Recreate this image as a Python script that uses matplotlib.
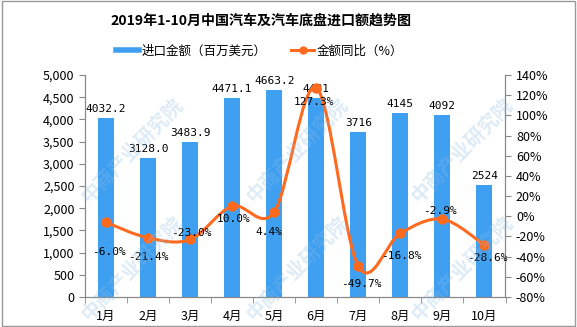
import numpy as np
import matplotlib
matplotlib.use("Agg")
import matplotlib.pyplot as plt
from matplotlib.path import Path
from matplotlib.patches import PathPatch, Rectangle
from matplotlib.lines import Line2D

plt.rcParams['font.family'] = ['Noto Sans CJK SC', 'DejaVu Sans']

months = ['1月', '2月', '3月', '4月', '5月', '6月', '7月', '8月', '9月', '10月']
imports = [4032.2, 3128.0, 3483.9, 4471.1, 4663.2, 4481, 3716, 4145, 4092, 2524]
import_labels = ['4032.2', '3128.0', '3483.9', '4471.1', '4663.2', '4481', '3716', '4145', '4092', '2524']
yoy = [-6.0, -21.4, -23.0, 10.0, 4.4, 127.3, -49.7, -16.8, -2.9, -28.6]
# where each % label sits relative to its point (points, label centre)
yoy_offsets = [(2, -21.5), (0, -14), (1, 5), (1, -9), (-3.5, -14.5), (-2, -10),
               (2, -13), (1, -16.5), (-1.5, 6), (2, -9.5)]

bar_color = '#3F9FF0'
line_color = '#FF6A1E'

fig = plt.figure(figsize=(5.77, 3.27), dpi=100)
ax = fig.add_axes([85 / 577, 1 - 297 / 327, (505.5 - 85) / 577, (297 - 75) / 327])
ax2 = ax.twinx()

x = np.arange(len(months))
ax.bar(x, imports, width=0.38, color=bar_color, zorder=2)
for xi, v, lab in zip(x, imports, import_labels):
    ax.annotate(lab, (xi, v), xytext=(0, 3), textcoords='offset points',
                ha='center', va='bottom', fontsize=8, family='DejaVu Sans Mono')

ax.set_xlim(-0.5, len(months) - 0.5)
ax.set_ylim(0, 5000)
ax.set_yticks(np.arange(0, 5001, 500))
ax.set_yticklabels([f'{v:,}' for v in range(0, 5001, 500)], fontsize=9)
ax.set_xticks(x)
ax.set_xticklabels(months, fontsize=9)
ax.set_xticks(np.arange(-0.5, len(months), 1), minor=True)
ax.tick_params(axis='x', which='major', length=0, pad=9)
ax.tick_params(axis='x', which='minor', length=4, color='#888888')
ax.tick_params(axis='y', length=4, color='#888888')

ax2.set_ylim(-80, 140)
ax2.set_yticks(np.arange(-80, 141, 20))
ax2.set_yticklabels([f'{v}%' for v in range(-80, 141, 20)], fontsize=9)
ax2.tick_params(axis='y', length=4, color='#888888')

for a in (ax, ax2):
    a.spines['top'].set_visible(False)
    for s in ('left', 'right', 'bottom'):
        a.spines[s].set_color('#888888')

# smoothed line (Catmull-Rom -> cubic bezier)
pts = np.column_stack([x, yoy]).astype(float)
n = len(pts)
verts = [pts[0]]
codes = [Path.MOVETO]
for i in range(n - 1):
    p0 = pts[max(i - 1, 0)]
    p1 = pts[i]
    p2 = pts[i + 1]
    p3 = pts[min(i + 2, n - 1)]
    verts += [p1 + (p2 - p0) / 6, p2 - (p3 - p1) / 6, p2]
    codes += [Path.CURVE4] * 3
ax2.add_patch(PathPatch(Path(verts, codes), facecolor='none', edgecolor=line_color,
                        lw=2.2, zorder=3))
ax2.plot(x, yoy, 'o', color=line_color, ms=6.5, zorder=4)
for xi, v, off in zip(x, yoy, yoy_offsets):
    ax2.annotate(f'{v:.1f}%', (xi, v), xytext=off, textcoords='offset points',
                 ha='center', va='center', fontsize=8, family='DejaVu Sans Mono', zorder=5)

# title and legend
fig.text(0.453, 1 - 21 / 327, '2019年1-10月中国汽车及汽车底盘进口额趋势图',
         ha='center', va='center', fontsize=10.1, fontweight='bold')
handles = [Line2D([], [], color=bar_color, lw=4),
           Line2D([], [], color=line_color, lw=2.2, marker='o', ms=5)]
fig.legend(handles, ['进口金额（百万美元）', '金额同比（%）'], loc='center',
           bbox_to_anchor=(0.45, 1 - 51 / 327), ncol=2, frameon=False, fontsize=9,
           handlelength=1.8, handletextpad=0.2, columnspacing=2.0)

# watermarks (only the ones that fit inside the picture)
for cx in (132, 297, 462):
    for cy in (150, 268):
        fig.text(cx / 577, 1 - cy / 327, '中商产业研究院', rotation=46,
                 ha='center', va='center', fontsize=14, fontweight='bold',
                 color='#8DBCE6', alpha=0.3, zorder=10)

# frame around figure
fig.patches.append(Rectangle((0.003, 0.003), 0.994, 0.994, transform=fig.transFigure,
                             fill=False, edgecolor='#999999', lw=1))

fig.savefig('out.png', dpi=100)
